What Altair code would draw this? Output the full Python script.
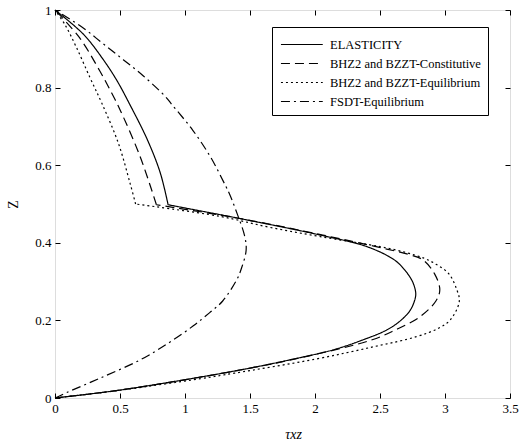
import altair as alt
import pandas as pd

series_names = ["ELASTICITY", "BHZ2 and BZZT-Constitutive",
                "BHZ2 and BZZT-Equilibrium", "FSDT-Equilibrium"]

elas_z = [0, 0.019, 0.05, 0.077, 0.1, 0.125, 0.15, 0.175, 0.2, 0.225, 0.25, 0.27, 0.3, 0.33, 0.356, 0.39, 0.42,
          0.464, 0.498, 0.58, 0.666, 0.76, 0.816, 0.868, 0.937, 1.0]
elas_x = [0, 0.47, 1.05, 1.5, 1.83, 2.15, 2.37, 2.55, 2.66, 2.73, 2.765, 2.775, 2.75, 2.69, 2.61, 2.40, 2.04,
          1.40, 0.87, 0.81, 0.71, 0.57, 0.48, 0.38, 0.22, 0]

cons_z = [0, 0.019, 0.05, 0.077, 0.1, 0.15, 0.175, 0.21, 0.25, 0.279, 0.32, 0.356, 0.37, 0.39, 0.42, 0.464, 0.498,
          0.623, 0.743, 0.786, 0.842, 0.928, 1.0]
cons_x = [0, 0.47, 1.05, 1.5, 1.84, 2.44, 2.615, 2.81, 2.93, 2.96, 2.92, 2.83, 2.72, 2.47, 2.06, 1.40, 0.78,
          0.654, 0.5, 0.436, 0.346, 0.19, 0]

equi_z = [0, 0.02, 0.05, 0.064, 0.1, 0.132, 0.158, 0.18, 0.201, 0.249, 0.28, 0.32, 0.345, 0.36, 0.375, 0.39,
          0.416, 0.44, 0.468, 0.50, 0.554, 0.657, 0.76, 0.825, 0.902, 0.962, 1.0]
equi_x = [0, 0.5, 1.12, 1.38, 2.0, 2.45, 2.78, 2.95, 3.04, 3.11, 3.09, 3.03, 2.93, 2.84, 2.7, 2.5,
          2.04, 1.65, 1.27, 0.62, 0.577, 0.487, 0.36, 0.27, 0.167, 0.077, 0]

fsdt_z = [0, 0.014, 0.051, 0.098, 0.141, 0.186, 0.22, 0.25, 0.306, 0.335, 0.38, 0.416, 0.485, 0.528, 0.545,
          0.619, 0.69, 0.756, 0.778, 0.83, 0.872, 0.913, 0.953, 1.0]
fsdt_x = [0, 0.09, 0.346, 0.654, 0.87, 1.064, 1.19, 1.29, 1.40, 1.435, 1.47, 1.46, 1.39, 1.34, 1.315,
          1.20, 1.06, 0.9, 0.846, 0.68, 0.525, 0.37, 0.22, 0]

kink_z = [0.498, 0.498, 0.50, 2.0]  # layer interface (FSDT has no kink)

x_ticks = [0, 0.5, 1, 1.5, 2, 2.5, 3, 3.5]
y_ticks = [0, 0.2, 0.4, 0.6, 0.8, 1]

rows = []
for name, zs, xs, kz in [(series_names[0], elas_z, elas_x, kink_z[0]),
                         (series_names[1], cons_z, cons_x, kink_z[1]),
                         (series_names[2], equi_z, equi_x, kink_z[2]),
                         (series_names[3], fsdt_z, fsdt_x, kink_z[3])]:
    for i, (z, x) in enumerate(zip(zs, xs)):
        if z <= kz:
            rows.append({"series": name, "part": name + "-low", "x": x, "z": z, "i": i})
        if z >= kz:
            rows.append({"series": name, "part": name + "-up", "x": x, "z": z, "i": i})
df = pd.DataFrame(rows)

FONT = "Liberation Serif"
xscale = alt.Scale(domain=[0, 3.5], nice=False, zero=False)
yscale = alt.Scale(domain=[0, 1], nice=False, zero=False)

common_axis = dict(domain=False, grid=False, tickSize=5, offset=-5, tickColor="black",
                   tickWidth=1, labelFont=FONT, labelFontSize=13, labelColor="black",
                   labelFlush=False, titleFont=FONT, titleColor="black",
                   titleFontWeight="normal")

lines = alt.Chart(df).mark_line(strokeWidth=1.2, color="black", interpolate="catmull-rom").encode(
    x=alt.X("x:Q", scale=xscale,
            axis=alt.Axis(values=x_ticks, format="~g", orient="bottom", title="τxz",
                          titleFontStyle="italic", titleFontSize=14, titlePadding=12,
                          titleX=238, labelPadding=4, **common_axis)),
    y=alt.Y("z:Q", scale=yscale,
            axis=alt.Axis(values=y_ticks, format="~g", orient="left", title="Z",
                          titleFontSize=14, titlePadding=14, labelPadding=4, **common_axis)),
    strokeDash=alt.StrokeDash(
        "series:N",
        scale=alt.Scale(domain=series_names,
                        range=[[1, 0], [9, 5], [2, 3], [9, 4, 2, 4]]),
        legend=alt.Legend(title=None, orient="none", legendX=217, legendY=17,
                          strokeColor="black", fillColor="white", padding=7,
                          labelFont=FONT, labelFontSize=12.5, labelColor="black",
                          symbolType="M-0.9,0H3.5", symbolSize=361, symbolStrokeWidth=1.2,
                          symbolStrokeColor="black", labelOffset=30, rowPadding=2)),
    order=alt.Order("i:Q"),
    detail="part:N",
)

frame_axes = alt.Chart(df).mark_line(opacity=0).encode(
    x=alt.X("x:Q", scale=xscale,
            axis=alt.Axis(values=x_ticks, orient="top", labels=False, title=None, **common_axis)),
    y=alt.Y("z:Q", scale=yscale,
            axis=alt.Axis(values=y_ticks, orient="right", labels=False, title=None, **common_axis)),
    detail="part:N",
)

chart = alt.layer(lines, frame_axes).resolve_axis(x="independent", y="independent").properties(
    width=455, height=388,
    padding={"left": 55, "top": 10, "right": 9, "bottom": 46},
    autosize=alt.AutoSizeParams(type="none"),
).configure_view(stroke="black", strokeWidth=1.2).configure(background="white", font=FONT)

chart.save("out.html", embed_options={"renderer": "svg", "actions": False})
